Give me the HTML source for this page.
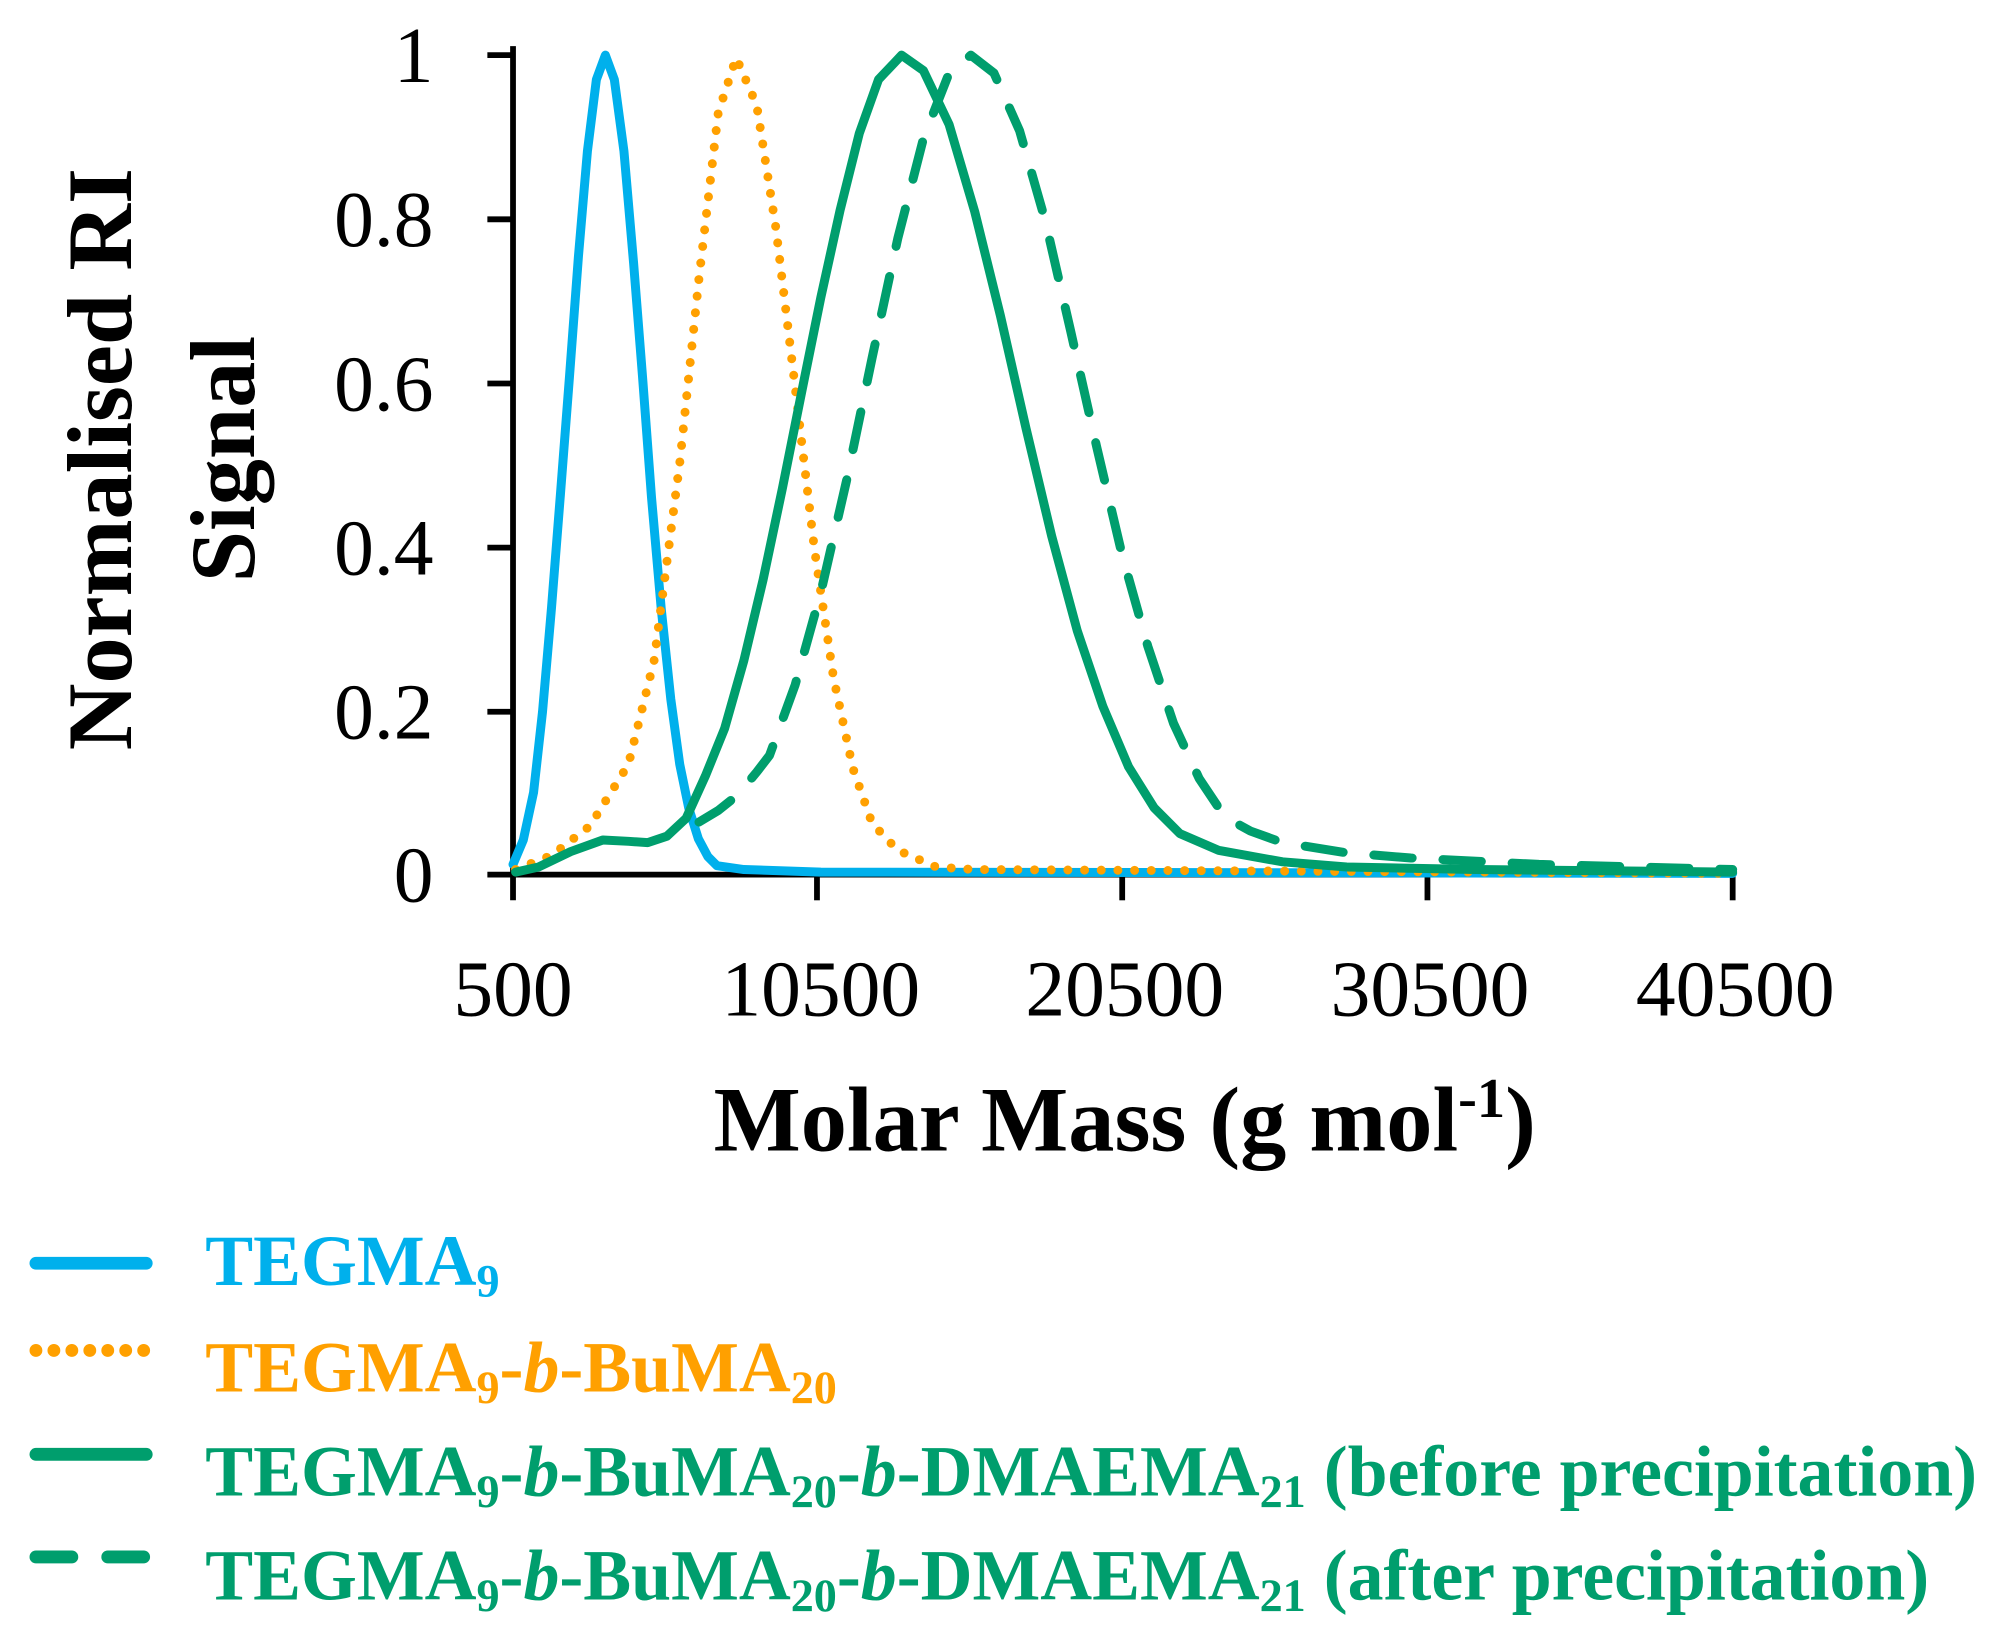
<!DOCTYPE html>
<html><head><meta charset="utf-8"><style>
html,body{margin:0;padding:0;background:#fff;}
svg{display:block;}
text{font-family:"Liberation Serif",serif;}
</style></head><body>
<svg width="2011" height="1633" viewBox="0 0 1568 1273.3" xmlns="http://www.w3.org/2000/svg">
<g stroke="#000" stroke-width="4.5" fill="none">
<line x1="400" y1="36" x2="400" y2="702"/>
<line x1="380" y1="682" x2="1353" y2="682"/>
<line x1="380" y1="43" x2="400" y2="43"/>
<line x1="380" y1="171" x2="400" y2="171"/>
<line x1="380" y1="299" x2="400" y2="299"/>
<line x1="380" y1="427" x2="400" y2="427"/>
<line x1="380" y1="555" x2="400" y2="555"/>
<line x1="637" y1="682" x2="637" y2="702"/>
<line x1="875" y1="682" x2="875" y2="702"/>
<line x1="1113" y1="682" x2="1113" y2="702"/>
<line x1="1351" y1="682" x2="1351" y2="702"/>
</g>
<g font-size="62" text-anchor="end" fill="#000">
<text x="338" y="64">1</text>
<text x="338" y="192">0.8</text>
<text x="338" y="320">0.6</text>
<text x="338" y="448">0.4</text>
<text x="338" y="576">0.2</text>
<text x="338" y="703">0</text>
</g>
<g font-size="62" text-anchor="middle" fill="#000">
<text x="400" y="792">500</text>
<text x="640" y="792">10500</text>
<text x="877" y="792">20500</text>
<text x="1115" y="792">30500</text>
<text x="1353" y="792">40500</text>
</g>
<text x="877" y="897" font-size="72" font-weight="bold" text-anchor="middle">Molar Mass (g mol<tspan font-size="44" dy="-26">-1</tspan><tspan dy="26">)</tspan></text>
<text transform="translate(102,358) rotate(-90)" font-size="72" font-weight="bold" text-anchor="middle">Normalised RI</text>
<text transform="translate(198,358) rotate(-90)" font-size="72" font-weight="bold" text-anchor="middle">Signal</text>
<g fill="none" stroke-linecap="round" stroke-linejoin="round">
<path stroke="#00b0ec" stroke-width="7" d="M400 674 L408 655 L416 618 L423 555 L430 474 L437 385 L444 294 L451 200 L458 118 L465 62 L472 43 L479 62 L486.5 118 L494 205 L501 294 L508 388 L515.5 474 L523 545 L530 596 L537 630 L544.5 654 L552 668 L559 675 L580 678 L640 680 L1351 681"/>
<path stroke="#ffa000" stroke-width="7" stroke-dasharray="0 13" d="M402 678 L430 667 L460 644 L490 596 L510 515 L530 361 L545 217 L560 88 L574 45 L590 82 L605 178 L620 302 L635 428 L650 529 L665 599 L680 642 L700 663 L730 676 L760 678 L1351 681"/>
<path stroke="#009e6d" stroke-width="7" d="M402 680 L420 676 L445 664 L470 655 L490 656 L505 657 L520 652 L535 638 L550 605 L565 568 L580 515 L595 452 L610 381 L625 306 L640 232 L655 164 L670 104 L685 62 L703 43 L720 55 L740 97 L760 165 L780 246 L800 334 L820 418 L840 492 L860 551 L880 598 L900 630 L920 650 L950 663 L1000 672 L1050 676 L1150 678 L1351 680"/>
<path stroke="#009e6d" stroke-width="7" stroke-dasharray="30 24" d="M545 641 L560 632 L575 620 L590 602 L600 589 L620 534 L640 462 L660 375 L680 279 L700 186 L720 108 L740 57 L757 43 L775 57 L795 102 L815 172 L835 259 L855 348 L875 433 L895 504 L915 564 L935 607 L955 637 L975 648 L1000 657 L1050 665 L1100 669 L1200 674 L1351 678"/>
</g>
<g stroke-width="10" stroke-linecap="round">
<line x1="28" y1="985" x2="114" y2="985" stroke="#00b0ec"/>
<line x1="28" y1="1053" x2="114" y2="1053" stroke="#ffa000" stroke-dasharray="0 14"/>
<line x1="28" y1="1134" x2="114" y2="1134" stroke="#009e6d"/>
<line x1="28" y1="1214" x2="56" y2="1214" stroke="#009e6d"/>
<line x1="84" y1="1214" x2="112" y2="1214" stroke="#009e6d"/>
</g>
<g font-size="56" font-weight="bold">
<text x="160" y="1002" fill="#00b0ec">TEGMA<tspan font-size="36" dy="9">9</tspan></text>
<text x="160" y="1085" fill="#ffa000">TEGMA<tspan font-size="36" dy="9">9</tspan><tspan dy="-9">-</tspan><tspan font-style="italic">b</tspan>-BuMA<tspan font-size="36" dy="9">20</tspan></text>
<text x="160" y="1166" fill="#009e6d">TEGMA<tspan font-size="36" dy="9">9</tspan><tspan dy="-9">-</tspan><tspan font-style="italic">b</tspan>-BuMA<tspan font-size="36" dy="9">20</tspan><tspan dy="-9">-</tspan><tspan font-style="italic">b</tspan>-DMAEMA<tspan font-size="36" dy="9">21</tspan><tspan dy="-9"> (before precipitation)</tspan></text>
<text x="160" y="1247" fill="#009e6d">TEGMA<tspan font-size="36" dy="9">9</tspan><tspan dy="-9">-</tspan><tspan font-style="italic">b</tspan>-BuMA<tspan font-size="36" dy="9">20</tspan><tspan dy="-9">-</tspan><tspan font-style="italic">b</tspan>-DMAEMA<tspan font-size="36" dy="9">21</tspan><tspan dy="-9"> (after precipitation)</tspan></text>
</g>
</svg>
</body></html>
